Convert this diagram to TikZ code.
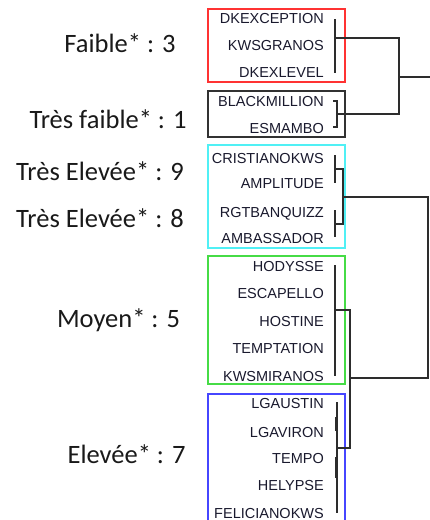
\documentclass[tikz,border=0pt]{standalone}
\usepackage{fontspec}
\setmainfont{Liberation Sans}
\newfontfamily\labfont{Carlito}
\definecolor{leafcol}{RGB}{25,25,45}
\definecolor{treecol}{RGB}{45,45,45}
\definecolor{boxred}{RGB}{255,50,50}
\definecolor{boxdark}{RGB}{50,50,50}
\definecolor{boxcyan}{RGB}{80,240,245}
\definecolor{boxgreen}{RGB}{70,220,70}
\definecolor{boxblue}{RGB}{70,70,255}
\tikzset{
  leaf/.style={anchor=base east, font=\fontsize{14.5}{16}\selectfont, text=leafcol, inner sep=0pt},
  grp/.style={font=\labfont\fontsize{26.5}{30}\selectfont, anchor=base, inner sep=0pt, text=black!90},
  tree/.style={draw=treecol, line width=1.3pt},
  grpbox/.style={line width=1.2pt}
}
\begin{document}
\begin{tikzpicture}[x=1pt,y=-1pt]
\useasboundingbox (0,0) rectangle (429,520);
% group labels
\node[grp] (g1) at (120,52) {Faible* : 3};
\node[grp] (g2) at (108,128) {Très faible* : 1};
\node[grp] (g3) at (100,180) {Très Elevée* : 9};
\node[grp] (g4) at (100,227) {Très Elevée* : 8};
\node[grp] (g5) at (118.5,327) {Moyen* : 5};
\node[grp] (g6) at (126.5,463) {Elevée* : 7};
% boxes
\draw[grpbox, draw=boxred] (208,9) rectangle (345,82);
\draw[grpbox, draw=boxdark] (208,91) rectangle (345,137);
\draw[grpbox, draw=boxcyan] (208,145) rectangle (345,248);
\draw[grpbox, draw=boxgreen] (208,256) rectangle (345,384);
\draw[grpbox, draw=boxblue] (208,394) rectangle (345,530);
% leaves
\node[leaf] (l1) at (324,23) {DKEXCEPTION};
\node[leaf] (l2) at (324,50) {KWSGRANOS};
\node[leaf] (l3) at (324,77) {DKEXLEVEL};
\node[leaf] (l4) at (324,106) {BLACKMILLION};
\node[leaf] (l5) at (324,133) {ESMAMBO};
\node[leaf] (l6) at (324,163) {CRISTIANOKWS};
\node[leaf] (l7) at (324,188) {AMPLITUDE};
\node[leaf] (l8) at (324,217) {RGTBANQUIZZ};
\node[leaf] (l9) at (324,243) {AMBASSADOR};
\node[leaf] (l10) at (324,271) {HODYSSE};
\node[leaf] (l11) at (324,298) {ESCAPELLO};
\node[leaf] (l12) at (324,326) {HOSTINE};
\node[leaf] (l13) at (324,353) {TEMPTATION};
\node[leaf] (l14) at (324,381) {KWSMIRANOS};
\node[leaf] (l15) at (324,408) {LGAUSTIN};
\node[leaf] (l16) at (324,437) {LGAVIRON};
\node[leaf] (l17) at (324,463) {TEMPO};
\node[leaf] (l18) at (324,490) {HELYPSE};
\node[leaf] (l19) at (324,518) {FELICIANOKWS};
% tree coordinates
\coordinate (ra) at (335,19);
\coordinate (rb) at (335,73);
\coordinate (rm) at (335,38);
\coordinate (j1t) at (399,38);
\coordinate (j1b) at (399,114);
\coordinate (j1m) at (399,77);
\coordinate (j1out) at (431,77);
\coordinate (dm) at (337,114);
\coordinate (dt) at (337,101);
\coordinate (db) at (337,127);
\coordinate (dtl) at (333,101);
\coordinate (dbl) at (333,127);
\coordinate (c1a) at (335,155);
\coordinate (c1b) at (335,183);
\coordinate (c2a) at (335,210);
\coordinate (c2b) at (335,237);
\coordinate (c1m) at (335,169);
\coordinate (c2m) at (335,224);
\coordinate (cjt) at (343,169);
\coordinate (cjb) at (343,224);
\coordinate (cjm) at (343,197);
\coordinate (rt) at (428,197);
\coordinate (rbm) at (428,378);
\coordinate (gm) at (350,378);
\coordinate (ga) at (335,265);
\coordinate (gb) at (335,376);
\coordinate (gmid) at (335,310);
\coordinate (gjt) at (350,310);
\coordinate (gjb) at (350,448);
\coordinate (bm) at (337,448);
\coordinate (ba) at (337,402);
\coordinate (bb) at (337,513);
\coordinate (bs1a) at (336,417);
\coordinate (bs1b) at (336,431);
\coordinate (bs2a) at (336,457);
\coordinate (bs2b) at (336,478);
% tree
\draw[tree] (ra) -- (rb);
\draw[tree] (rm) -- (j1t) -- (j1b) -- (dm);
\draw[tree] (j1m) -- (j1out);
\draw[tree] (dtl) -- (dt) -- (db) -- (dbl);
\draw[tree] (c1a) -- (c1b);
\draw[tree] (c2a) -- (c2b);
\draw[tree] (c1m) -- (cjt) -- (cjb) -- (c2m);
\draw[tree] (cjm) -- (rt) -- (rbm) -- (gm);
\draw[tree] (ga) -- (gb);
\draw[tree] (gmid) -- (gjt) -- (gjb) -- (bm);
\draw[tree] (ba) -- (bb);
\draw[tree, line width=2.4pt] (bs1a) -- (bs1b);
\draw[tree, line width=2.4pt] (bs2a) -- (bs2b);
\end{tikzpicture}
\end{document}
